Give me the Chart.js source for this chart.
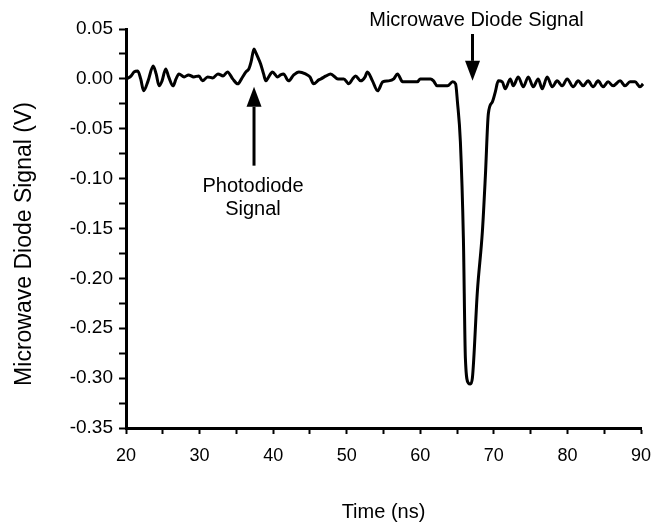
<!DOCTYPE html>
<html>
<head>
<meta charset="utf-8">
<title>Microwave Diode Signal</title>
<script src="https://cdn.jsdelivr.net/npm/chart.js@4.4.1/dist/chart.umd.min.js"></script>
<style>
  body { margin: 0; background: #fff; }
  #wrap { width: 661px; height: 524px; }
</style>
</head>
<body>
<div id="wrap"><canvas id="chart" width="661" height="524"></canvas></div>
<script>
// Trace (time in ns, signal in V)
const timeNs = [
  20.1, 20.7, 21.1, 21.6, 22.0, 22.4, 23.0, 23.7, 24.1, 24.5, 24.9, 25.4, 25.8, 26.4, 26.8, 27.2,
  27.9, 28.5, 29.2, 29.9, 30.4, 31.1, 31.8, 32.5, 33.2, 33.8, 34.5, 35.2, 35.7, 36.3, 36.7, 37.0,
  37.4, 37.6, 37.9, 38.3, 38.7, 39.0, 39.4, 39.9, 40.6, 41.0, 41.4, 42.1, 42.8, 43.5, 44.4, 45.0,
  45.5, 46.2, 46.5, 47.2, 47.8, 48.8, 49.6, 50.3, 50.8, 51.2, 51.9, 52.5, 52.8, 53.5, 54.2, 54.9,
  55.7, 56.4, 56.9, 57.6, 58.7, 59.6, 60.0, 61.4, 61.8, 62.3, 63.7, 64.4, 64.8,
  65.05, 65.45, 65.86, 66.13, 66.54, 66.8, 67.08, 67.76, 68.44, 68.85, 69.25, 69.8, 70.2, 70.6,
  71.15, 71.55, 72.23, 72.64, 73.32, 74.0, 74.68, 75.35, 76.03, 76.57, 77.25, 77.93, 78.6, 79.29,
  79.97, 80.78, 81.46, 82.14, 82.81, 83.49, 84.17, 84.85, 85.53, 86.2, 87.16, 87.83, 88.51, 89.19,
  89.87, 90.28
];
const signalV = [
  0.000, 0.003, 0.007, 0.008, 0.000, -0.012, -0.002, 0.013, 0.005, -0.007, -0.002, 0.010, 0.002, -0.007, 0.000, 0.005,
  0.002, 0.004, 0.002, 0.003, -0.002, 0.002, 0.001, 0.005, 0.003, 0.007, 0.000, -0.005, 0.000, 0.007, 0.010, 0.017,
  0.030, 0.027, 0.022, 0.015, 0.005, -0.002, 0.002, 0.007, 0.002, 0.004, 0.005, -0.002, 0.004, 0.007, 0.005, 0.002,
  -0.005, -0.001, 0.000, 0.003, 0.005, 0.000, 0.000, -0.005, 0.000, 0.003, -0.002, 0.002, 0.007, -0.002, -0.012, -0.003,
  -0.002, 0.000, 0.005, -0.003, -0.003, -0.003, 0.000, 0.000, -0.002, -0.007, -0.007, -0.003, -0.005,
  -0.023, -0.063, -0.160, -0.280, -0.305, -0.306, -0.300, -0.213, -0.153, -0.097, -0.035, -0.023, -0.013, -0.002,
  -0.003, -0.010, 0.000, -0.007, 0.002, -0.008, 0.002, -0.008, 0.000, -0.010, 0.002, -0.008, -0.002, -0.007,
  0.000, -0.008, -0.002, -0.007, -0.002, -0.008, -0.002, -0.008, -0.003, -0.007, -0.002, -0.007, -0.003, -0.003,
  -0.008, -0.005
];

const xLimits = [20, 90];
const yLimits = [-0.35, 0.05];
const xTitle = "Time (ns)";
const yTitle = "Microwave Diode Signal (V)";

// annotations: text lines, arrow position in data units [x, tail y, tip y]
const photoText = ["Photodiode", "Signal"];
const photoArrow = [37.4, -0.087, -0.008];
const microText = "Microwave Diode Signal";
const microArrow = [67.1, 0.045, -0.002];

const FONT = "'Liberation Sans', Arial, Helvetica, sans-serif";

function drawArrow(ctx, x, y1, y2) {
  // shaft from y1 to the head, head tip at y2
  const dir = y2 > y1 ? 1 : -1;
  const headLen = 20, headHalf = 7.5;
  ctx.beginPath();
  ctx.moveTo(x, y1);
  ctx.lineTo(x, y2 - dir * headLen);
  ctx.lineWidth = 3;
  ctx.strokeStyle = "#000";
  ctx.stroke();
  ctx.beginPath();
  ctx.moveTo(x, y2);
  ctx.lineTo(x - headHalf, y2 - dir * headLen);
  ctx.lineTo(x + headHalf, y2 - dir * headLen);
  ctx.closePath();
  ctx.fillStyle = "#000";
  ctx.fill();
}

const labelsPlugin = {
  id: "labels",
  afterDraw(chart) {
    const ctx = chart.ctx;
    const xs = chart.scales.x, ys = chart.scales.y;
    ctx.save();
    ctx.fillStyle = "#000";
    ctx.textAlign = "center";
    ctx.textBaseline = "middle";

    // y axis title
    ctx.save();
    ctx.translate(25, 244);
    ctx.rotate(-Math.PI / 2);
    ctx.font = "23px " + FONT;
    ctx.fillText(yTitle, 0, 0);
    ctx.restore();

    // photodiode arrow + label
    const px = xs.getPixelForValue(photoArrow[0]);
    drawArrow(ctx, px, ys.getPixelForValue(photoArrow[1]), ys.getPixelForValue(photoArrow[2]));
    ctx.font = "20px " + FONT;
    const py = ys.getPixelForValue(photoArrow[1]);
    photoText.forEach((t, i) => ctx.fillText(t, px - 1, py + 21 + i * 23));

    // microwave arrow + label
    const mx = xs.getPixelForValue(microArrow[0]);
    const my = ys.getPixelForValue(microArrow[1]);
    drawArrow(ctx, mx, my, ys.getPixelForValue(microArrow[2]));
    ctx.fillText(microText, mx + 4, my - 14);
    ctx.restore();
  }
};

new Chart(document.getElementById("chart"), {
  type: "scatter",
  data: {
    datasets: [{
      data: timeNs.map((t, i) => ({ x: t, y: signalV[i] })),
      showLine: true,
      borderColor: "#000",
      borderWidth: 3,
      pointRadius: 0,
      cubicInterpolationMode: "monotone",
      clip: 6
    }]
  },
  options: {
    responsive: false,
    animation: false,
    layout: { padding: { top: 29, right: 20, left: 0, bottom: 0 } },
    plugins: { legend: { display: false }, tooltip: { enabled: false } },
    scales: {
      x: {
        type: "linear",
        min: xLimits[0],
        max: xLimits[1],
        afterFit: (s) => { s.height = 96; },
        border: { display: true, color: "#000", width: 3 },
        grid: { drawOnChartArea: false, tickLength: 6, tickWidth: 2, tickColor: "#000" },
        ticks: {
          stepSize: 5,
          padding: 9,
          color: "#000",
          font: { family: FONT, size: 18, lineHeight: 1.45 },
          maxRotation: 0,
          autoSkip: false,
          callback: (v) => (Math.round(v) % 10 === 0 ? String(Math.round(v)) : "")
        },
        title: {
          display: true,
          text: xTitle,
          color: "#000",
          font: { family: FONT, size: 20 },
          padding: { top: 0, bottom: 0 }
        }
      },
      y: {
        type: "linear",
        min: yLimits[0],
        max: yLimits[1],
        afterFit: (s) => { s.width = 126; },
        border: { display: true, color: "#000", width: 3 },
        grid: { drawOnChartArea: false, tickLength: 7, tickWidth: 2, tickColor: "#000" },
        ticks: {
          stepSize: 0.025,
          padding: 6,
          color: "#000",
          font: { family: FONT, size: 19 },
          autoSkip: false,
          callback: (v) => {
            const k = Math.round(v / 0.05);
            return Math.abs(k * 0.05 - v) < 1e-6 ? (k * 0.05).toFixed(2) : "";
          }
        }
      }
    }
  },
  plugins: [labelsPlugin]
});
</script>
</body>
</html>
